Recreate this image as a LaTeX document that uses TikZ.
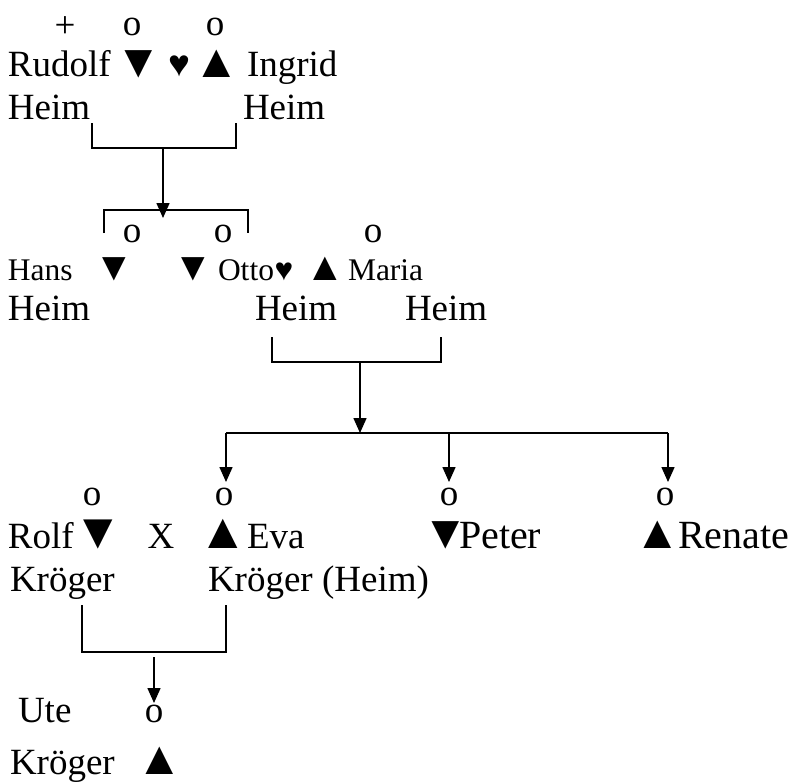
\documentclass[tikz,border=0pt]{standalone}
\usepackage{fontspec}
\setmainfont{Liberation Serif}
\usetikzlibrary{arrows.meta}
\begin{document}
\begin{tikzpicture}[x=1pt,y=-1pt,
  every node/.style={inner sep=0pt,outer sep=0pt},
  big/.style={font=\fontsize{37}{40}\selectfont},
  bigger/.style={font=\fontsize{40}{42}\selectfont},
  small/.style={font=\fontsize{31.5}{33}\selectfont},
  symA/.style={font=\fontsize{47}{47}\selectfont},
  symB/.style={font=\fontsize{40}{40}\selectfont},
  symC/.style={font=\fontsize{50}{50}\selectfont},
  wl/.style={anchor=base west},
  cl/.style={anchor=base},
  link/.style={line width=1.5pt},
  arr/.style={line width=1.5pt,-{Triangle[length=15pt,width=13pt]}}]
\useasboundingbox[fill=white] (0,0) rectangle (799,782);

% generation 1
\node[big,cl] (plus) at (65,37) {+};
\node[big,cl] (o1a) at (132,35) {o};
\node[big,cl] (o1b) at (215,35) {o};
\node[big,wl] (rudolf) at (8,76) {Rudolf};
\node[symA,cl] (s1) at (139,77) {▼};
\node[big,cl] (h1) at (179,76) {♥};
\node[symA,cl] (s2) at (216.5,77) {▲};
\node[big,wl] (ingrid) at (247,76) {Ingrid};
\node[big,wl] (heim1) at (8,119) {Heim};
\node[big,wl] (heim2) at (243,119) {Heim};

\coordinate (b1l) at (92,123);
\coordinate (b1r) at (236,123);
\coordinate (b1c) at (163,148);
\coordinate (a1) at (163,218);
\draw[link] (b1l) |- (b1c) -| (b1r);
\draw[arr] (b1c) -- (a1);

\coordinate (b2l) at (104,233);
\coordinate (b2lt) at (104,210);
\coordinate (b2rt) at (248,210);
\coordinate (b2r) at (248,233);
\draw[link] (b2l) -- (b2lt) -- (b2rt) -- (b2r);

% generation 2
\node[big,cl] (o2a) at (132,242) {o};
\node[big,cl] (o2b) at (223,242) {o};
\node[big,cl] (o2c) at (373,242) {o};
\node[small,wl] (hans) at (8,280) {Hans};
\node[symB,cl] (s3) at (114,280) {▼};
\node[symB,cl] (s4) at (193.5,280) {▼};
\node[small,wl] (otto) at (218,280) {Otto};
\node[small,cl] (h2) at (284,280) {♥};
\node[symB,cl] (s5) at (325,280) {▲};
\node[small,wl] (maria) at (348,280) {Maria};
\node[big,wl] (heim3) at (8,320) {Heim};
\node[big,wl] (heim4) at (255,320) {Heim};
\node[big,wl] (heim5) at (405,320) {Heim};

\coordinate (b3l) at (272,337);
\coordinate (b3r) at (441,337);
\coordinate (b3c) at (360,362);
\coordinate (a2) at (360,433);
\draw[link] (b3l) |- (b3c) -| (b3r);
\draw[arr] (b3c) -- (a2);

\coordinate (hl) at (226,433);
\coordinate (hr) at (668,433);
\coordinate (hm) at (449,433);
\coordinate (c1) at (226,482);
\coordinate (c2) at (449,482);
\coordinate (c3) at (668,482);
\draw[link] (hl) -- (hr);
\draw[arr] (hl) -- (c1);
\draw[arr] (hm) -- (c2);
\draw[arr] (hr) -- (c3);

% generation 3
\node[big,cl] (o3a) at (92,505) {o};
\node[big,cl] (o3b) at (224,505) {o};
\node[big,cl] (o3c) at (449,505) {o};
\node[big,cl] (o3d) at (665,505) {o};
\node[big,wl] (rolf) at (8,548) {Rolf};
\node[symC,cl] (s6) at (98,548) {▼};
\node[big,cl] (x1) at (161,548) {X};
\node[symC,cl] (s7) at (223,548) {▲};
\node[big,wl] (eva) at (247,548) {Eva};
\node[symA,cl] (s8) at (446,548) {▼};
\node[bigger,wl] (peter) at (459,548) {Peter};
\node[symA,cl] (s9) at (658,548) {▲};
\node[bigger,wl] (renate) at (678,548) {Renate};
\node[big,wl] (kr1) at (10,591) {Kröger};
\node[big,wl] (kr2) at (208,591) {Kröger (Heim)};

\coordinate (b4l) at (82,605);
\coordinate (b4r) at (226,605);
\coordinate (b4c) at (154,652);
\coordinate (b4s) at (154,657);
\coordinate (a3) at (154,703);
\draw[link] (b4l) |- (b4c) -| (b4r);
\draw[arr] (b4s) -- (a3);

% generation 4
\node[big,wl] (ute) at (18,722) {Ute};
\node[big,cl] (o4) at (154,722) {o};
\node[big,wl] (kr3) at (10,774) {Kröger};
\node[symA,cl] (s10) at (160,774) {\smash{▲}};
\end{tikzpicture}
\end{document}
